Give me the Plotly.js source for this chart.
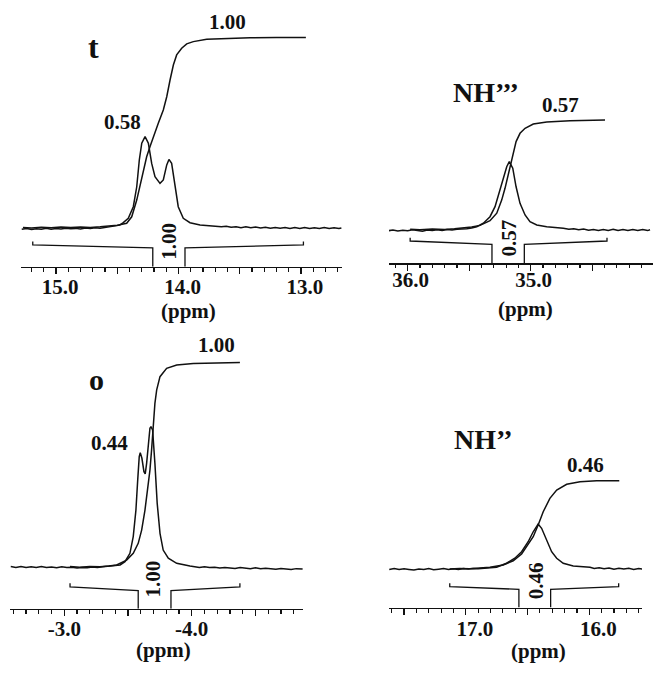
<!DOCTYPE html>
<html><head><meta charset="utf-8">
<script src="https://cdn.plot.ly/plotly-3.0.1.min.js"></script>
<style>html,body{margin:0;padding:0;background:#fff}#chart{width:668px;height:677px}</style>
</head><body><div id="chart"></div>
<script>
// ================= DATA =================
const panelNames = ['t', 'NH\u2019\u2019\u2019', 'o', 'NH\u2019\u2019'];
const integralLabels = ['1.00', '0.57', '1.00', '0.46'];
const peakLabels = ['0.58', '', '0.44', ''];
const axisTitle = '(ppm)';
// integration regions (ppm)
const regionStart = [15.19, 35.98, -3.045, 17.13];
const regionEnd   = [12.98, 34.38, -4.378, 15.762];

// tick labels
const tTickVals = [15, 14.5, 14, 13.5, 13];
const tTickText = ['15.0', '', '14.0', '', '13.0'];
const nh3TickVals = [36, 35.5, 35, 34.5];
const nh3TickText = ['36.0', '', '35.0', ''];
const oTickVals = [-3, -3.5, -4, -4.5];
const oTickText = ['-3.0', '', '-4.0', ''];
const nh2TickVals = [17.5, 17, 16.5, 16];
const nh2TickText = ['', '17.0', '', '16.0'];

// ---- panel t : spectrum ----
const tSpecPpm = [15.28,15.24,15.20,15.16,15.12,15.08,15.04,15.00,14.96,14.92,14.88,14.84,14.80,14.76,14.72,14.68,14.64,14.60,14.56,14.52,14.48,
  14.451,14.41,14.369,14.341,14.32,14.30,14.273,14.246,14.219,14.192,14.151,14.124,14.096,14.078,14.056,14.029,14.002,13.961,13.906,13.824,13.76,13.69,
  13.65,13.61,13.57,13.53,13.49,13.45,13.41,13.37,13.33,13.29,13.25,13.21,13.17,13.13,13.09,13.05,13.01,12.97,12.93,12.89,12.85,12.81,12.77,12.73,12.69,12.67];
const tSpecInt = [-0.007,-0.003,-0.008,-0.004,-0.006,-0.002,-0.007,-0.003,-0.005,-0.001,-0.004,-0.002,-0.005,0.000,-0.003,0.001,-0.001,0.003,0.005,0.009,0.015,
  0.028,0.051,0.112,0.217,0.358,0.446,0.481,0.446,0.340,0.270,0.235,0.253,0.332,0.361,0.340,0.217,0.112,0.051,0.028,0.016,0.012,0.010,
  0.006,0.009,0.004,0.007,0.002,0.006,0.001,0.005,0.000,0.004,-0.001,0.003,-0.001,0.002,-0.003,0.002,-0.002,0.003,-0.003,0.001,-0.002,0.002,-0.003,0.001,-0.003,0.000];
// ---- panel t : integral ----
const tIntPpm = [15.27,15.20,15.12,15.04,14.96,14.88,14.80,14.72,14.64,14.56,14.50,14.423,14.382,14.341,14.30,14.26,14.233,14.206,14.165,14.124,14.096,14.069,14.042,14.015,13.974,13.933,13.879,13.77,13.607,13.416,13.2,12.96];
const tIntVal = [0.003,0.000,0.004,0.001,0.005,0.002,0.005,0.003,0.006,0.009,0.014,0.025,0.059,0.147,0.270,0.375,0.428,0.481,0.551,0.621,0.691,0.779,0.858,0.911,0.946,0.969,0.981,0.994,0.999,1.001,1.002,1.002];

// ---- panel NH''' : spectrum ----
const nh3SpecPpm = [36.16,36.12,36.08,36.04,36.00,35.96,35.92,35.88,35.84,35.80,35.76,35.72,35.68,35.64,35.60,35.56,35.52,35.48,
  35.439,35.385,35.331,35.29,35.25,35.223,35.195,35.174,35.146,35.119,35.087,35.046,35.006,34.951,34.87,34.735,
  34.69,34.65,34.61,34.57,34.53,34.49,34.45,34.41,34.37,34.33,34.29,34.25,34.21,34.17,34.13,34.09,34.05,34.03];
const nh3SpecInt = [-0.004,0.000,-0.005,-0.001,-0.004,0.001,-0.003,-0.006,0.000,-0.003,0.001,-0.002,0.002,0.000,0.004,0.004,0.007,0.010,
  0.017,0.035,0.069,0.121,0.207,0.276,0.328,0.354,0.320,0.224,0.138,0.078,0.043,0.026,0.017,0.009,
  0.004,0.007,0.002,0.005,-0.001,0.003,-0.002,0.003,-0.002,0.004,-0.003,0.002,-0.003,0.002,-0.002,0.003,-0.003,0.001];
// ---- panel NH''' : integral ----
const nh3IntPpm = [35.98,35.90,35.80,35.70,35.62,35.548,35.48,35.412,35.331,35.276,35.236,35.209,35.187,35.168,35.146,35.119,35.087,35.046,34.979,34.87,34.68,34.396];
const nh3IntVal = [0.004,0.001,0.005,0.003,0.007,0.010,0.016,0.024,0.048,0.087,0.155,0.216,0.276,0.337,0.397,0.458,0.501,0.527,0.549,0.560,0.566,0.570];

// ---- panel o : spectrum ----
const oSpecPpm = [-2.58,-2.62,-2.66,-2.70,-2.74,-2.78,-2.82,-2.86,-2.90,-2.94,-2.98,-3.02,-3.06,-3.10,-3.14,-3.18,-3.22,-3.26,-3.30,-3.34,-3.38,-3.41,
  -3.438,-3.476,-3.515,-3.541,-3.562,-3.576,-3.588,-3.596,-3.609,-3.625,-3.635,-3.646,-3.659,-3.672,-3.680,-3.693,-3.711,-3.729,-3.751,-3.776,-3.816,-3.882,-3.986,
  -4.02,-4.06,-4.10,-4.14,-4.18,-4.22,-4.26,-4.30,-4.34,-4.38,-4.42,-4.46,-4.50,-4.54,-4.58,-4.62,-4.66,-4.70,-4.74,-4.78,-4.82,-4.86,-4.87];
const oSpecInt = [0.002,-0.002,0.003,-0.002,0.001,-0.003,0.002,-0.003,0.000,-0.004,0.001,-0.003,-0.001,-0.005,-0.002,-0.004,0.000,-0.003,0.001,0.003,0.006,0.008,
  0.010,0.026,0.067,0.149,0.279,0.426,0.541,0.560,0.533,0.467,0.456,0.508,0.606,0.680,0.688,0.672,0.508,0.312,0.165,0.083,0.043,0.018,0.005,
  0.001,-0.003,0.001,-0.003,-0.001,-0.005,-0.002,-0.004,-0.007,-0.003,-0.006,-0.008,-0.004,-0.009,-0.006,-0.008,-0.011,-0.007,-0.010,-0.012,-0.008,-0.011,-0.010];
// ---- panel o : integral ----
const oIntPpm = [-3.045,-3.12,-3.20,-3.28,-3.35,-3.411,-3.489,-3.541,-3.58,-3.607,-3.633,-3.659,-3.672,-3.685,-3.698,-3.711,-3.725,-3.751,-3.803,-3.882,-4.012,-4.195,-4.378];
const oIntVal = [0.002,-0.001,0.003,0.001,0.005,0.010,0.034,0.067,0.116,0.181,0.279,0.394,0.475,0.574,0.704,0.802,0.868,0.933,0.974,0.990,0.998,1.001,1.003];

// ---- panel NH'' : spectrum ----
const nh2SpecPpm = [17.62,17.58,17.54,17.50,17.46,17.42,17.38,17.34,17.30,17.26,17.22,17.18,17.14,17.10,17.06,17.02,16.98,16.94,16.90,16.86,16.82,16.78,
  16.751,16.67,16.603,16.548,16.495,16.454,16.427,16.414,16.386,16.359,16.333,16.305,16.264,16.211,16.13,15.994,
  15.96,15.92,15.88,15.84,15.80,15.76,15.72,15.68,15.64,15.60,15.57];
const nh2SpecInt = [-0.003,0.002,-0.003,0.001,-0.002,-0.005,0.000,-0.003,0.002,-0.004,-0.001,0.002,-0.002,0.001,-0.003,0.002,0.000,0.003,0.001,0.004,0.005,0.007,
  0.009,0.030,0.056,0.090,0.142,0.194,0.224,0.234,0.212,0.168,0.125,0.090,0.056,0.030,0.016,0.009,
  0.003,0.006,0.001,0.005,-0.001,0.004,0.000,0.004,-0.002,0.003,0.000];
// ---- panel NH'' : integral ----
const nh2IntPpm = [17.13,17.05,16.97,16.89,16.805,16.697,16.616,16.548,16.495,16.454,16.414,16.373,16.319,16.264,16.183,16.075,15.94,15.757];
const nh2IntVal = [0.000,0.003,0.001,0.005,0.009,0.021,0.043,0.078,0.125,0.168,0.229,0.298,0.368,0.411,0.441,0.455,0.460,0.460];

// ================= LAYOUT / STYLE =================
const W = 668, H = 677;
const INK = '#111111';
const FONT = 'Liberation Serif, Times New Roman, serif';
const dx = (a, b) => [a / W, b / W];
const dy = (top, bottom) => [1 - bottom / H, 1 - top / H];

const panels = [
  { spec: [tSpecPpm, tSpecInt], integ: [tIntPpm, tIntVal], ticks: [tTickVals, tTickText],
    xdom: dx(21, 342), ydom: dy(0, 266.7), xr: [15.286, 12.665], yr: [-0.2037, 1.2], shift: -4, lstand: -6, titleX: 13.92, titleDrop: 44,
    br: { gapL: 14.21, gapR: 13.947, yTop: -0.071, yEnd: -0.089, yIn: -0.104 },
    rot: [14.078, -0.067], name: [14.698, 0.953], nameSize: 32,
    intLab: [13.596, 1.084], peak: [14.461, 0.558] },
  { spec: [nh3SpecPpm, nh3SpecInt], integ: [nh3IntPpm, nh3IntVal], ticks: [nh3TickVals, nh3TickText],
    xdom: dx(389, 653), ydom: dy(0, 263.3), xr: [36.152, 34.006], yr: [-0.1725, 1.1917], shift: -3, lstand: -9, titleX: 35.046, titleDrop: 46,
    br: { gapL: 35.315, gapR: 35.052, yTop: -0.040, yEnd: -0.057, yIn: -0.074 },
    rot: [35.176, -0.043], name: [35.36, 0.712], nameSize: 28,
    intLab: [34.754, 0.648], peak: null },
  { spec: [oSpecPpm, oSpecInt], integ: [oIntPpm, oIntVal], ticks: [oTickVals, oTickText],
    xdom: dx(10, 303), ydom: dy(300, 608.7), xr: [-2.574, -4.873], yr: [-0.2044, 1.3088], shift: 0, lstand: -6, titleX: -3.782, titleDrop: 41,
    br: { gapL: -3.580, gapR: -3.837, yTop: -0.080, yEnd: -0.097, yIn: -0.116 },
    rot: [-3.70, -0.059], name: [-3.256, 0.917], nameSize: 30,
    intLab: [-4.198, 1.088], peak: [-3.358, 0.608] },
  { spec: [nh2SpecPpm, nh2SpecInt], integ: [nh2IntPpm, nh2IntVal], ticks: [nh2TickVals, nh2TickText],
    xdom: dx(389, 642), ydom: dy(300, 607.5), xr: [17.622, 15.573], yr: [-0.2005, 1.401], shift: -9, lstand: -4, titleX: 16.414, titleDrop: 43,
    br: { gapL: 16.570, gapR: 16.313, yTop: -0.074, yEnd: -0.092, yIn: -0.106 },
    rot: [16.435, -0.061], name: [16.86, 0.672], nameSize: 28,
    intLab: [16.027, 0.542], peak: null }
];

const traces = [];
const layout = {
  width: W, height: H, margin: { l: 0, r: 0, t: 0, b: 0 },
  paper_bgcolor: '#fff', plot_bgcolor: 'rgba(0,0,0,0)', showlegend: false,
  annotations: []
};
const lineStyle = { color: INK, width: 1.5 };
const numFont = { family: FONT, size: 21, color: INK, weight: 'bold' };

panels.forEach((p, i) => {
  const n = i + 1;
  const xa = 'x' + (n === 1 ? '' : n), ya = 'y' + (n === 1 ? '' : n);
  const xk = 'xaxis' + (n === 1 ? '' : n), yk = 'yaxis' + (n === 1 ? '' : n);
  traces.push({ type: 'scatter', mode: 'lines', x: p.spec[0], y: p.spec[1], xaxis: xa, yaxis: ya,
    line: lineStyle, hoverinfo: 'skip' });
  traces.push({ type: 'scatter', mode: 'lines', x: p.integ[0], y: p.integ[1], xaxis: xa, yaxis: ya,
    line: lineStyle, hoverinfo: 'skip' });
  const s = regionStart[i], e = regionEnd[i], b = p.br, y0 = p.yr[0];
  traces.push({ type: 'scatter', mode: 'lines', xaxis: xa, yaxis: ya, hoverinfo: 'skip',
    x: [s, s, b.gapL, b.gapL, null, b.gapR, b.gapR, e, e],
    y: [b.yTop, b.yEnd, b.yIn, y0, null, y0, b.yIn, b.yEnd, b.yTop],
    line: { color: INK, width: 1.3 } });

  layout[xk] = {
    domain: p.xdom, range: p.xr, anchor: ya, fixedrange: true,
    showline: true, linecolor: INK, linewidth: 1.6, showgrid: false, zeroline: false,
    ticks: 'outside', ticklen: 6, tickwidth: 1.4, tickcolor: INK,
    tickmode: 'array', tickvals: p.ticks[0], ticktext: p.ticks[1],
    ticklabelshift: p.shift, ticklabelstandoff: p.lstand,
    minor: { ticks: 'outside', dtick: 0.1, tick0: 0, ticklen: 3.5, tickwidth: 1.2, tickcolor: INK, showgrid: false },
    tickfont: numFont
  };
  layout[yk] = { domain: p.ydom, range: p.yr, anchor: xa, visible: false, fixedrange: true };

  const ann = (x, y, text, font, extra) => Object.assign({ xref: xa, yref: ya, x, y, text, font,
    showarrow: false, xanchor: 'center', yanchor: 'middle' }, extra || {});
  layout.annotations.push(ann(p.intLab[0], p.intLab[1], integralLabels[i], numFont));
  layout.annotations.push(ann(p.rot[0], p.rot[1], integralLabels[i], numFont, { textangle: -90 }));
  layout.annotations.push(ann(p.name[0], p.name[1], panelNames[i],
    { family: FONT, size: p.nameSize, color: INK, weight: 'bold' }));
  if (p.peak) layout.annotations.push(ann(p.peak[0], p.peak[1], peakLabels[i], numFont));
  layout.annotations.push({ xref: xa, yref: ya + ' domain', x: p.titleX, y: 0, yshift: -p.titleDrop,
    text: axisTitle, font: numFont, showarrow: false, xanchor: 'center', yanchor: 'middle' });
});

Plotly.newPlot('chart', traces, layout, { displayModeBar: false, staticPlot: true });
</script>
</body></html>
